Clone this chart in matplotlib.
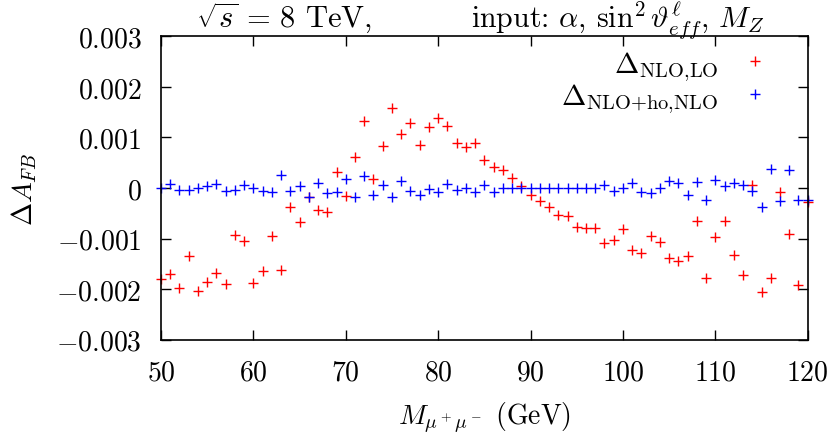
import numpy as np
import matplotlib
matplotlib.use("Agg")
import matplotlib.pyplot as plt

plt.rcParams['font.family'] = 'cmr10'
plt.rcParams['mathtext.fontset'] = 'cm'
plt.rcParams['axes.formatter.use_mathtext'] = True
plt.rcParams['axes.unicode_minus'] = False

mass = list(range(50, 121))

nlo_lo = [
    -1.79, -1.71, -1.98, -1.34, -2.03, -1.85, -1.69, -1.89, -0.92, -1.04,
    -1.87, -1.65, -0.94, -1.62, -0.37, -0.68, -0.18, -0.43, -0.47, 0.32,
    -0.16, 0.62, 1.33, 0.17, 0.83, 1.59, 1.06, 1.28, 0.86, 1.20,
    1.38, 1.22, 0.89, 0.81, 0.90, 0.55, 0.42, 0.35, 0.20, 0.03,
    -0.13, -0.25, -0.37, -0.53, -0.56, -0.78, -0.79, -0.79, -1.08, -1.02,
    -0.82, -1.23, -1.29, -0.94, -1.07, -1.39, -1.44, -1.34, -0.66, -1.78,
    -0.96, -0.66, -1.33, -1.73, 0.06, -2.05, -1.77, -0.07, -0.90, -1.92,
    -0.28,
]
nlo_ho = [
    0.00, 0.08, -0.04, -0.03, 0.00, 0.04, 0.07, -0.06, -0.03, 0.06,
    0.00, -0.06, -0.07, 0.26, -0.05, 0.03, -0.18, 0.09, -0.09, -0.08,
    0.18, -0.17, 0.24, -0.13, 0.05, -0.18, 0.13, -0.06, -0.13, -0.01,
    -0.08, 0.07, -0.03, 0.01, -0.07, 0.05, -0.07, 0.00, 0.00, 0.00,
    0.00, 0.00, 0.00, 0.00, 0.00, 0.00, 0.00, 0.00, 0.06, -0.06,
    0.01, 0.10, -0.08, -0.10, 0.00, 0.14, 0.09, -0.13, 0.11, -0.24,
    0.15, 0.03, 0.10, 0.06, -0.06, -0.37, 0.37, -0.26, 0.35, -0.23,
    -0.24,
]
nlo_lo = [v * 1e-3 for v in nlo_lo]
nlo_ho = [v * 1e-3 for v in nlo_ho]

xticks = [50, 60, 70, 80, 90, 100, 110, 120]
yticks = [-0.003, -0.002, -0.001, 0, 0.001, 0.002, 0.003]
ytick_labels = [r'$-0.003$', r'$-0.002$', r'$-0.001$', r'$0$', r'$0.001$', r'$0.002$', r'$0.003$']
labels = [r'$\Delta_{\rm NLO{,}LO}$', r'$\Delta_{\rm NLO{+}ho{,}NLO}$']

fig = plt.figure(figsize=(8.31, 4.35), dpi=100)
ax = fig.add_axes([0.1937, 0.2168, 0.972 - 0.1937, 0.9142 - 0.2168])

h1, = ax.plot(mass, nlo_lo, linestyle='none', marker='+', markersize=7, markeredgewidth=1.0,
              color='#ff0000', clip_on=False, label=labels[0])
h2, = ax.plot(mass, nlo_ho, linestyle='none', marker='+', markersize=7, markeredgewidth=1.0,
              color='#0000ff', clip_on=False, label=labels[1])

ax.set_xlim(50, 120)
ax.set_ylim(-0.003, 0.003)
ax.set_xticks(xticks)
ax.set_xticklabels([r'$%d$' % v for v in xticks])
ax.set_yticks(yticks)
ax.set_yticklabels(ytick_labels)
ax.tick_params(direction='in', length=7, width=1.0, labelsize=20, pad=14,
               top=True, right=True)
for s in ax.spines.values():
    s.set_linewidth(1.2)

ax.set_xlabel(r'$M_{\mu^+\mu^-}$ (GeV)', fontsize=20, labelpad=10)
ax.set_ylabel(r'$\Delta A_{FB}$', fontsize=20, labelpad=12)

fig.text(0.342, 0.9356, r'$\sqrt{s}\,=\,8$ TeV,', fontsize=22, ha='center', va='baseline')
fig.text(0.744, 0.9356, r'input: $\alpha$, $\sin^2\vartheta^\ell_{eff}$, $M_Z$', fontsize=21.5,
         ha='center', va='baseline')

# one single-entry legend per row so each label is right-aligned next to its sample
legend_rows = [(h1, labels[0], 0.903), (h2, labels[1], 0.797)]
for i, (h, lab, yy) in enumerate(legend_rows):
    leg = ax.legend([h], [lab], loc='center right', bbox_to_anchor=(0.941, yy),
                    markerfirst=False, frameon=False, fontsize=21, handlelength=1.0,
                    handletextpad=0.75, borderpad=0, borderaxespad=0)
    if i < len(legend_rows) - 1:
        ax.add_artist(leg)

fig.savefig('out.png', dpi=100)
